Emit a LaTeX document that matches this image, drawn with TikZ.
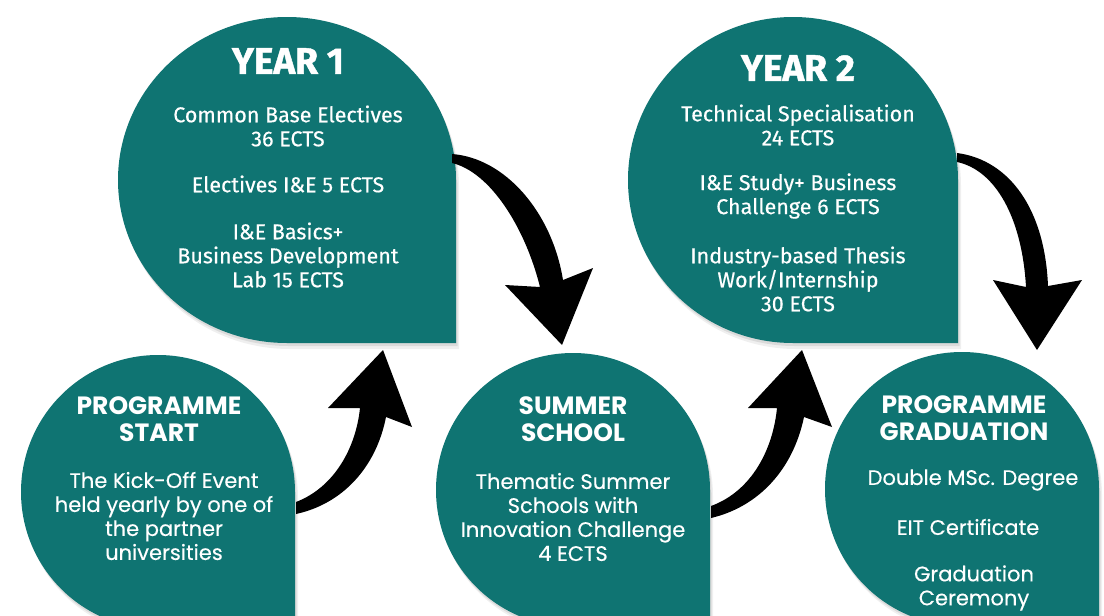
\documentclass[tikz,border=0pt]{standalone}
\usepackage{fontspec}
\setmainfont{Fira Sans}[UprightFeatures={FakeBold=0.4}, BoldFeatures={FakeBold=1.2}]
\newfontfamily\popp{Poppins}[UprightFeatures={FakeBold=0.3}]
\usetikzlibrary{shadows}
\definecolor{tealbox}{RGB}{15,116,114}
\newcommand\dropshape[5]{% name, cx, cy, rx, ry
  \fill[tealbox, drop shadow={opacity=0.12, shadow xshift=3pt, shadow yshift=-6pt}, drop shadow={opacity=0.18, shadow xshift=1.5pt, shadow yshift=-3pt}]
    (#2+#4,#3+#5) -- (#2+#4,#3) arc[start angle=0, end angle=-270, x radius=#4, y radius=#5] -- cycle;
  \coordinate (#1) at (#2,#3);}
\begin{document}
\begin{tikzpicture}[x=1pt,y=-1pt,
  hd/.style={text=white, font=\bfseries\fontsize{37}{40}\selectfont, align=center, inner sep=0pt},
  bd/.style={text=white, font=\fontsize{21.5}{24}\selectfont, align=center, inner sep=0pt},
  hb/.style={text=white, font=\popp\bfseries\fontsize{25}{27}\selectfont, align=center, inner sep=0pt},
  bb/.style={text=white, font=\popp\fontsize{21}{24}\selectfont, align=center, inner sep=0pt},
  arrowfill/.style={fill=black}]
\useasboundingbox (0,0) rectangle (1104,616);
\fill[white] (0,0) rectangle (1104,616);

% shapes
\dropshape{start}{158}{492}{137}{137}
\dropshape{year1}{287}{180}{169}{163}
\dropshape{summer}{573}{490}{137}{137}
\dropshape{year2}{793}{180}{165}{163}
\dropshape{grad}{962}{489}{137}{137}

% arrow end points
\coordinate (a1s) at (296,508); \coordinate (a1e) at (383,350);
\coordinate (a2s) at (452,158); \coordinate (a2e) at (562,345);
\coordinate (a3s) at (711,514); \coordinate (a3e) at (802,350);
\coordinate (a4s) at (957,157); \coordinate (a4e) at (1037,350);

% arrow 1: start -> year 1
\fill[arrowfill] (296,502) .. controls (335,487) and (356,447) .. (360,408)
  -- (328,408) -- (a1e) -- (412,427) -- (386,417)
  .. controls (376,468) and (342,504) .. (296,514) -- cycle;
% arrow 2: year 1 -> summer
\fill[arrowfill] (452,154) .. controls (505,158) and (552,212) .. (563,280)
  -- (593,268) -- (a2e) -- (505,285) -- (540,287)
  .. controls (525,227) and (490,172) .. (452,163) -- cycle;
% arrow 3: summer -> year 2
\fill[arrowfill] (711,506) .. controls (752,491) and (773,449) .. (777,408)
  -- (748,408) -- (a3e) -- (832,427) -- (804,417)
  .. controls (793,470) and (758,507) .. (711,518) -- cycle;
% arrow 4: year 2 -> graduation
\fill[arrowfill] (957,153) .. controls (1010,160) and (1045,210) .. (1048,286)
  -- (1082,280) -- (a4e) -- (993,280) -- (1026,287)
  .. controls (1022,217) and (995,170) .. (957,162) -- cycle;

% texts: year 1
\node[hd] (y1h) at (288,61) {YEAR 1};
\node[bd] (y1a) at (288,126) {Common Base Electives\\36 ECTS};
\node[bd] (y1b) at (288,184) {Electives I\&E 5 ECTS};
\node[bd] (y1c) at (288,255) {I\&E Basics+\\Business Development\\Lab 15 ECTS};

% year 2
\node[hd] (y2h) at (798,68) {YEAR 2};
\node[bd] (y2a) at (798,125) {Technical Specialisation\\24 ECTS};
\node[bd] (y2b) at (798,196) {I\&E Study+ Business\\Challenge 6 ECTS};
\node[bd] (y2c) at (798,279) {Industry-based Thesis\\Work/Internship\\30 ECTS};

% programme start
\node[hb] (sth) at (159,419) {PROGRAMME\\START};
\node[bb] (stb) at (164,516) {The Kick-Off Event\\held yearly by one of\\the partner\\universities};

% summer school
\node[hb] (ssh) at (573,419) {SUMMER\\SCHOOL};
\node[bb] (ssb) at (573,517) {Thematic Summer\\Schools with\\Innovation Challenge\\4 ECTS};

% graduation
\node[hb] (grh) at (964,418) {PROGRAMME\\GRADUATION};
\node[bb] (gra) at (973,480) {Double MSc. Degree};
\node[bb] (grb) at (968,527) {EIT Certificate};
\node[bb] (grc) at (974,588) {Graduation\\Ceremony};
\end{tikzpicture}
\end{document}
